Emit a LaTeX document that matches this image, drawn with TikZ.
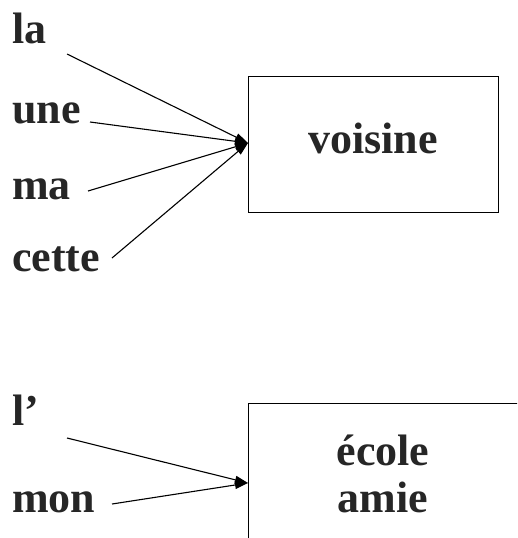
\documentclass[tikz,border=0pt]{standalone}
\usepackage{fontspec}
\setmainfont{Liberation Serif}
\usetikzlibrary{arrows.meta}
\begin{document}
\begin{tikzpicture}[x=1pt,y=-1pt,
  word/.style={font=\fontsize{44}{50}\selectfont\bfseries, text=black!85, inner sep=0pt},
  wordl/.style={word, anchor=base west},
  box/.style={draw, line width=1pt, inner sep=0pt},
  conn/.style={line width=1.1pt, -{Triangle[length=13pt,width=8pt]}}]
\useasboundingbox (0,0) rectangle (517,538);
\clip (0,0) rectangle (517,538);
% top group
\node[box, minimum width=250pt, minimum height=136pt] (v) at (373,144) {};
\node[word] (vt) at (373,138) {voisine};
\node[wordl] (la) at (12,43) {la};
\node[wordl] (une) at (12,123) {une};
\node[wordl] (ma) at (12,199) {ma};
\node[wordl] (cette) at (12,271) {cette};
\coordinate (s1) at (67,54);
\coordinate (s2) at (90,122);
\coordinate (s3) at (88,191);
\coordinate (s4) at (112,258);
\coordinate (t1) at (248,143);
\draw[conn] (s1) -- (t1);
\draw[conn] (s2) -- (t1);
\draw[conn] (s3) -- (t1);
\draw[conn] (s4) -- (t1);
% bottom group
\node[box, minimum width=280pt, minimum height=160pt] (e) at (388,483) {};
\node[word] (et) at (383,450) {école};
\node[word] (at) at (383,497) {amie};
\node[wordl] (l) at (12,425) {l’};
\node[wordl] (mon) at (12,512) {mon};
\coordinate (s5) at (67,438);
\coordinate (s6) at (112,504);
\coordinate (t2) at (248,483);
\draw[conn] (s5) -- (t2);
\draw[conn] (s6) -- (t2);
\end{tikzpicture}
\end{document}
